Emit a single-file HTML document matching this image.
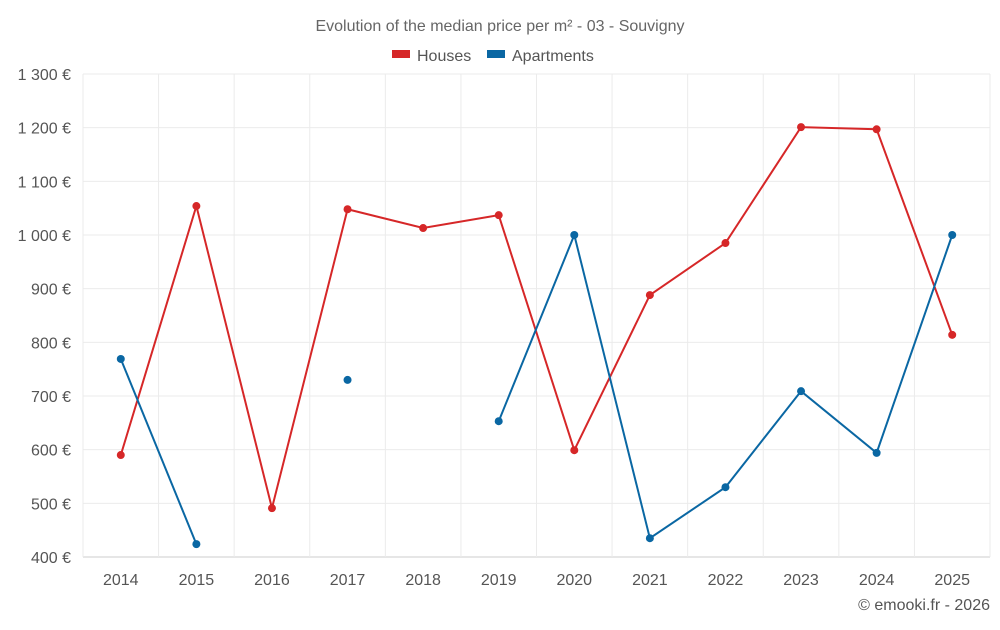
<!DOCTYPE html>
<html><head><meta charset="utf-8"><style>
body{margin:0;background:#fff;font-family:"Liberation Sans",sans-serif;}
svg text{font-family:"Liberation Sans",sans-serif;}
</style></head><body>
<svg id="c" width="1000" height="625">
<text x="500" y="31" text-anchor="middle" font-size="16" fill="#666">Evolution of the median price per m² - 03 - Souvigny</text>
<g>
<rect x="392" y="50" width="18" height="8" fill="#d62728"/>
<text x="417" y="61" font-size="16" fill="#555">Houses</text>
<rect x="487" y="50" width="18" height="8" fill="#0a67a3"/>
<text x="512" y="61" font-size="16" fill="#555">Apartments</text>
</g>
<g id="grid"></g><g id="axes"></g><g id="series"></g>
<text x="990" y="610" text-anchor="end" font-size="16" fill="#555">© emooki.fr - 2026</text>
</svg>
<script>
const years=[2014,2015,2016,2017,2018,2019,2020,2021,2022,2023,2024,2025];
const houses=[590,1054,491,1048,1013,1037,599,888,985,1201,1197,814];
const apartments=[769,424,null,730,null,653,1000,435,530,709,594,1000];
const yTicks=[400,500,600,700,800,900,1000,1100,1200,1300];
const yLabels=["400 €","500 €","600 €","700 €","800 €","900 €","1 000 €","1 100 €","1 200 €","1 300 €"];
const L=83,R=990,T=74,B=557,ymin=400,ymax=1300;
const step=(R-L)/years.length;
const x=i=>L+step*(i+0.5);
const y=v=>B-(v-ymin)/(ymax-ymin)*(B-T);
const NS="http://www.w3.org/2000/svg";
function mk(p,t,a){const e=document.createElementNS(NS,t);for(const k in a)e.setAttribute(k,a[k]);p.appendChild(e);return e;}
const g=document.getElementById('grid'),ax=document.getElementById('axes'),s=document.getElementById('series');
yTicks.forEach((v,i)=>{
 const l=mk(g,'line',{x1:L,x2:R,y1:y(v),y2:y(v),stroke:i==0?'#ccc':'#ebebeb'});
 
 
 const t=mk(ax,'text',{x:71,y:y(v)+6,'text-anchor':'end','font-size':16,fill:'#555'});t.textContent=yLabels[i];
 
 
});
for(let i=0;i<=years.length;i++){
 const l=mk(g,'line',{x1:L+step*i,x2:L+step*i,y1:T,y2:B,stroke:'#ebebeb'});
 
 
}
years.forEach((yr,i)=>{
 const t=mk(ax,'text',{x:x(i),y:585,'text-anchor':'middle','font-size':16,fill:'#555'});t.textContent=yr;
 
 
});
function draw(data,color,name){
 let seg=[];const segs=[];
 data.forEach((v,i)=>{if(v==null){if(seg.length)segs.push(seg);seg=[];}else seg.push([x(i),y(v)]);});
 if(seg.length)segs.push(seg);
 segs.forEach(sg=>{if(sg.length>1){const p=mk(s,'polyline',{points:sg.map(q=>q.join(',')).join(' '),fill:'none',stroke:color,'stroke-width':2});
 
 }});
 data.forEach((v,i)=>{if(v==null)return;const c=mk(s,'circle',{cx:x(i),cy:y(v),r:4,fill:color});
 
 });
}
draw(houses,'#d62728','houses');
draw(apartments,'#0a67a3','apartments');
</script>
</body></html>
